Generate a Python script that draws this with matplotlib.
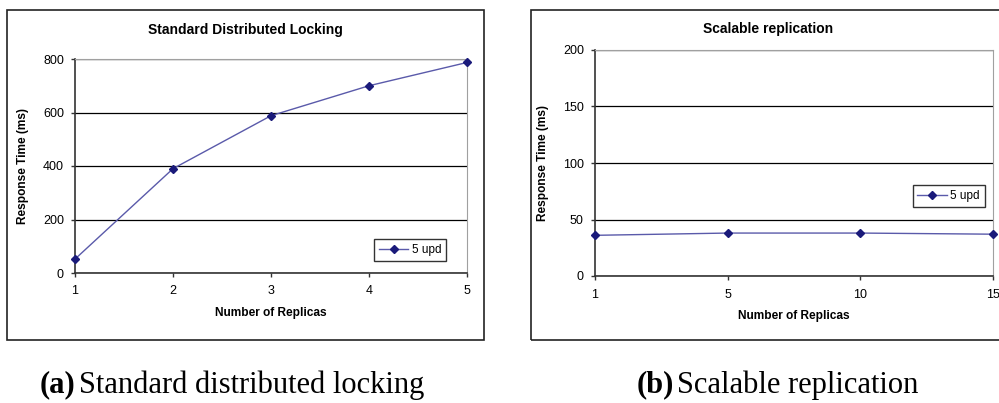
import numpy as np
import matplotlib
matplotlib.use('Agg')
import matplotlib.pyplot as plt
from matplotlib.patches import Rectangle

# Данные
replicas_a = ['1', '2', '3', '4', '5']
resp_a = [52, 390, 588, 700, 787]
replicas_b = ['1', '5', '10', '15']
resp_b = [36, 38, 38, 37]
series_name = '5 upd'

W, H = 999, 403
fig = plt.figure(figsize=(W / 100, H / 100), dpi=100)
plt.rcParams['font.family'] = ['Liberation Sans', 'DejaVu Sans']


def fx(px):
    return px / W


def fy(py):
    return 1 - py / H


# Рамки вокруг диаграмм
for x0, x1 in [(7, 484), (531, 1010)]:
    fig.patches.append(Rectangle((fx(x0), fy(340)), fx(x1 - x0), (340 - 10) / H,
                                 transform=fig.transFigure, fill=False,
                                 edgecolor='#222222', linewidth=1.2))


def draw(ax, cats, vals, ymax, ystep, leg_pos):
    x = np.arange(len(cats))
    ax.plot(x, vals, color='#5a5aaa', linewidth=1.0, marker='D', markersize=4.5,
            markerfacecolor='#1a1a7a', markeredgecolor='#1a1a7a', label=series_name,
            clip_on=False, zorder=3)
    ax.set_xlim(0, len(cats) - 1)
    ax.set_ylim(0, ymax)
    ax.set_xticks(x)
    ax.set_xticklabels(cats)
    ax.set_yticks(np.arange(0, ymax + 1, ystep))
    ax.yaxis.grid(True, color='black', linewidth=0.9)
    ax.set_axisbelow(True)
    for s in ['top', 'right']:
        ax.spines[s].set_color('#a0a0a0')
    for s in ['left', 'bottom']:
        ax.spines[s].set_color('#333333')
        ax.spines[s].set_linewidth(1.2)
    ax.tick_params(axis='both', labelsize=9, length=3, width=1, color='#333333')
    ax.tick_params(axis='y', pad=5)
    ax.tick_params(axis='x', pad=6)
    ax.set_xlabel('Number of Replicas', fontsize=8.6, fontweight='bold', labelpad=7)
    ax.set_ylabel('Response Time (ms)', fontsize=8.6, fontweight='bold', labelpad=10)
    leg = ax.legend(loc='lower left', bbox_to_anchor=leg_pos, fontsize=8.5, frameon=True,
                    fancybox=False, edgecolor='black', handlelength=2.5,
                    borderpad=0.4, handletextpad=0.3)
    leg.get_frame().set_linewidth(1.0)


ax1 = fig.add_axes([fx(75), fy(273), fx(467 - 75), (273 - 59) / H])
draw(ax1, replicas_a, resp_a, 800, 200, (0.748, 0.03))
fig.text(fx(245), fy(30), 'Standard Distributed Locking', fontsize=10,
         fontweight='bold', ha='center', va='center')

ax2 = fig.add_axes([fx(595), fy(276), fx(993 - 595), (276 - 50) / H])
draw(ax2, replicas_b, resp_b, 200, 50, (0.783, 0.28))
fig.text(fx(768), fy(29), 'Scalable replication', fontsize=10,
         fontweight='bold', ha='center', va='center')

# Подписи под диаграммами
cap_font = ['Liberation Serif', 'DejaVu Serif']
fig.text(fx(40), fy(385), '(a)', fontsize=22, fontweight='bold', family=cap_font, va='center')
fig.text(fx(79), fy(385), 'Standard distributed locking', fontsize=22, family=cap_font, va='center')
fig.text(fx(637), fy(385), '(b)', fontsize=22, fontweight='bold', family=cap_font, va='center')
fig.text(fx(677), fy(385), 'Scalable replication', fontsize=22, family=cap_font, va='center')

fig.savefig('out.png', dpi=100)
